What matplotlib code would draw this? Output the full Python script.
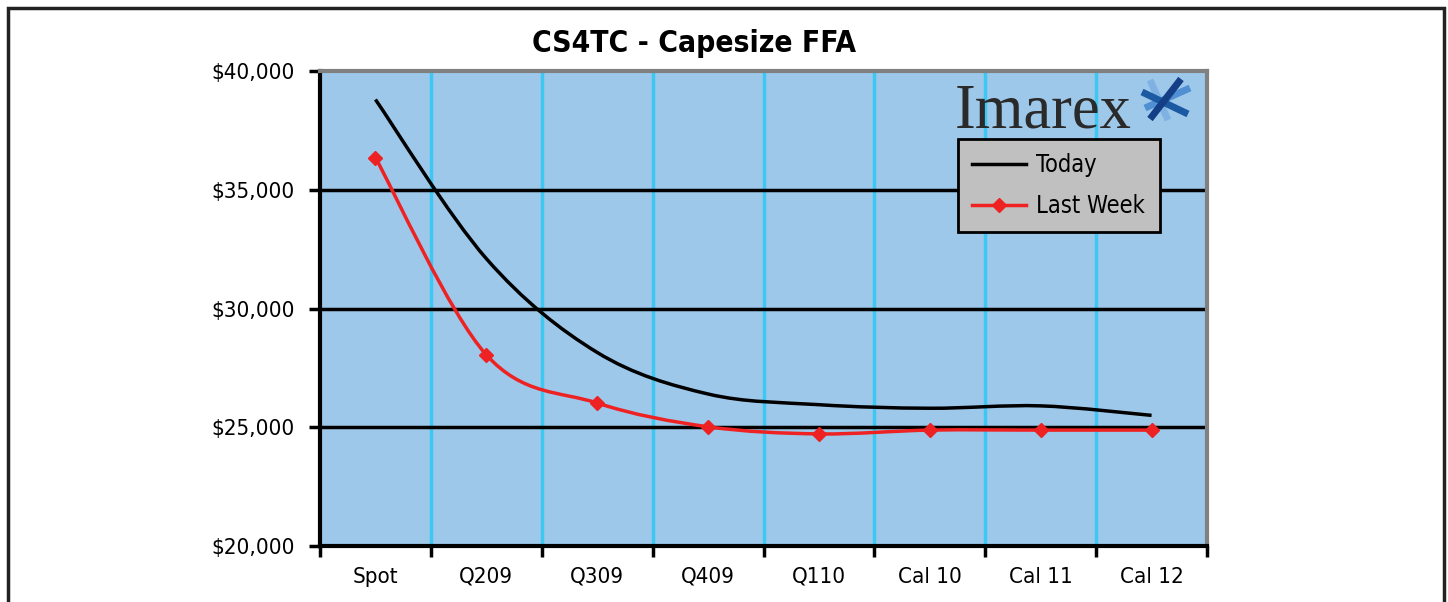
import matplotlib
matplotlib.use("Agg")
import matplotlib.pyplot as plt
from matplotlib.path import Path
from matplotlib.patches import PathPatch, Rectangle
from matplotlib.lines import Line2D
import numpy as np

plt.rcParams['font.family'] = ['DejaVu Sans']
plt.rcParams['font.stretch'] = 'condensed'

categories = ["Spot", "Q209", "Q309", "Q409", "Q110", "Cal 10", "Cal 11", "Cal 12"]
today      = [38800, 32100, 28150, 26400, 25950, 25800, 25900, 25500]
last_week  = [36350, 28050, 26020, 25020, 24720, 24880, 24880, 24880]


def smooth_path(xs, ys):
    # excel style smoothed line: bezier segments through every point
    pts = np.column_stack([xs, ys]).astype(float)
    n = len(pts)
    verts = [pts[0]]
    codes = [Path.MOVETO]
    for i in range(n - 1):
        p0 = pts[max(i - 1, 0)]
        p1 = pts[i]
        p2 = pts[i + 1]
        p3 = pts[min(i + 2, n - 1)]
        c1 = p1 + (p2 - p0) / 6.0
        c2 = p2 - (p3 - p1) / 6.0
        verts += [c1, c2, p2]
        codes += [Path.CURVE4] * 3
    return Path(verts, codes)


fig = plt.figure(figsize=(14.48, 6.02), dpi=100)
ax = fig.add_axes([320 / 1448, 56 / 602, 887 / 1448, 475 / 602])
ax.set_facecolor("#9dc8ea")

x = np.arange(len(categories))
ax.set_xlim(-0.5, len(categories) - 0.5)
ax.set_ylim(20000, 40000)

# gridlines
for b in np.arange(0.5, len(categories) - 0.5, 1):
    ax.axvline(b, color="#3cc8f2", lw=2.5, zorder=1)
for yv in [25000, 30000, 35000]:
    ax.axhline(yv, color="black", lw=2.5, zorder=1)

ax.add_patch(PathPatch(smooth_path(x, today), facecolor="none",
                       edgecolor="black", lw=2.5, zorder=3))
ax.add_patch(PathPatch(smooth_path(x, last_week), facecolor="none",
                       edgecolor="#ee2222", lw=2.5, zorder=3))
ax.plot(x, last_week, linestyle="none", marker="D", ms=7, color="#ee2222", zorder=4)

ax.set_xticks(np.arange(-0.5, len(categories), 1))
ax.set_xticklabels([])
ax.set_xticks(x, minor=True)
ax.set_xticklabels(categories, minor=True, fontsize=16)
ax.tick_params(axis="x", which="minor", length=0, pad=15)
ax.tick_params(axis="x", which="major", length=8, width=2.5, direction="out")

ax.set_yticks([20000, 25000, 30000, 35000, 40000])
ax.set_yticklabels(["${:,.0f}".format(v) for v in [20000, 25000, 30000, 35000, 40000]], fontsize=16)
ax.tick_params(axis="y", length=8, width=2.5, direction="out", pad=10)

for side in ["left", "bottom"]:
    ax.spines[side].set_linewidth(3)
    ax.spines[side].set_color("black")
for side in ["top", "right"]:
    ax.spines[side].set_linewidth(3)
    ax.spines[side].set_color("#808080")

fig.text(694 / 1448, 1 - 43 / 602, "CS4TC - Capesize FFA", ha="center", va="center",
         fontsize=21.5, fontweight="bold")

# legend
h1 = Line2D([], [], color="black", lw=2.5)
h2 = Line2D([], [], color="#ee2222", lw=2.5, marker="D", ms=7)
leg = ax.legend([h1, h2], ["Today", "Last Week"], loc="lower left",
                bbox_to_anchor=((958 - 320) / 887, (546 - 232) / 475, 202 / 887, 90 / 475),
                mode="expand", borderaxespad=0, fontsize=17, frameon=True, fancybox=False,
                facecolor="#c0c0c0", edgecolor="black", framealpha=1,
                handlelength=2.3, handletextpad=0.4, borderpad=0.6, labelspacing=0.7)
leg.get_frame().set_linewidth(2)

# Imarex logo
fig.text(955 / 1448, 1 - 127 / 602, "Imarex", ha="left", va="baseline",
         fontsize=45, family="Liberation Serif", color="#2a2a2a", fontstretch="normal")
strokes = [((1181, 79), (1150, 119), "#143e86"),
           ((1142, 92), (1188, 114), "#1b5aa3"),
           ((1150, 80), (1168, 120), "#7fb2e3"),
           ((1190, 88), (1145, 108), "#4f8fd2")]
for (p1, p2, c) in strokes[::-1]:
    fig.add_artist(Line2D([p1[0] / 1448, p2[0] / 1448],
                          [1 - p1[1] / 602, 1 - p2[1] / 602],
                          color=c, lw=5, solid_capstyle="butt"))

# outer border
fig.add_artist(Rectangle((8 / 1448, -0.05), (1444 - 8) / 1448, 1.05 - 8 / 602,
                         fill=False, edgecolor="#222222", lw=2.5))

fig.savefig("out.png", dpi=100)
